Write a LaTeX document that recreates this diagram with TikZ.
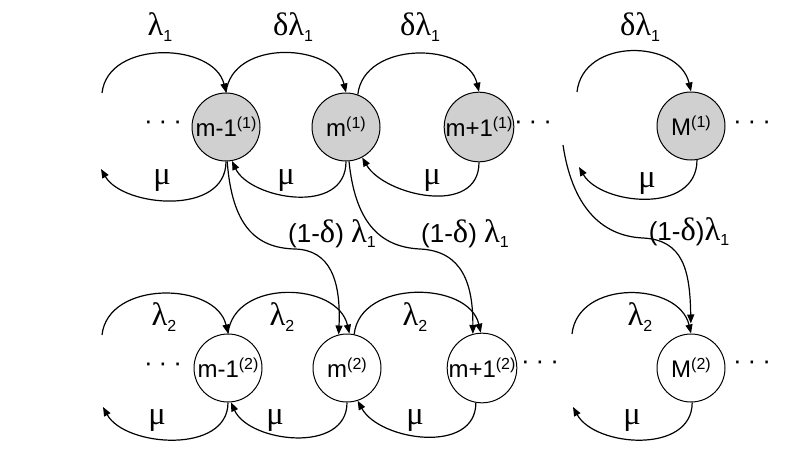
\documentclass[tikz,border=0pt]{standalone}
\usepackage{fontspec}
\setmainfont{Liberation Sans}
\newfontfamily\grk[Scale=1.25]{Liberation Serif}
\usetikzlibrary{arrows.meta}
\newcommand{\gl}{{\grk λ}}
\newcommand{\gm}{{\grk μ}}
\newcommand{\gd}{{\grk δ}}
\newcommand{\sups}[1]{\raisebox{0.33em}{\fontsize{16}{16}\selectfont #1}}
\newcommand{\subs}[1]{\raisebox{-0.2em}{\fontsize{16}{16}\selectfont #1}}
\newcommand{\threedots}{·\hspace{6pt}·\hspace{6pt}·}
\tikzset{
  base/.style={circle, draw, line width=1pt, minimum size=68pt, inner sep=0pt, font=\fontsize{24}{26}\selectfont},
  st1/.style={base, fill={rgb,255:red,208;green,208;blue,208}},
  st2/.style={base, fill=white},
  lab/.style={font=\fontsize{26}{28}\selectfont, inner sep=1pt},
  arc/.style={line width=1.2pt, -{Triangle[length=9pt,width=7pt]}}
}
\begin{document}
\begin{tikzpicture}[x=1pt,y=-1pt]
\useasboundingbox (0,0) rectangle (793,458);
% states
\node[st1] (t1) at (226,127) {m-1\sups{(1)}};
\node[st1] (t2) at (346,127) {m\sups{(1)}};
\node[st1] (t3) at (479,127) {m+1\sups{(1)}};
\node[st1] (t4) at (691,126) {M\sups{(1)}};
\node[st2] (b1) at (228,368) {m-1\sups{(2)}};
\node[st2] (b2) at (347,368) {m\sups{(2)}};
\node[st2] (b3) at (482,368) {m+1\sups{(2)}};
\node[st2] (b4) at (691,368) {M\sups{(2)}};
% dots
\node[lab] (dt1) at (163,125) {\threedots};
\node[lab] (dt2) at (533,125) {\threedots};
\node[lab] (dt3) at (752,125) {\threedots};
\node[lab] (db1) at (163,367) {\threedots};
\node[lab] (db2) at (540,365) {\threedots};
\node[lab] (db3) at (752,365) {\threedots};
% free ends
\coordinate (a0) at (102,93);
\coordinate (c0) at (101,169);
\coordinate (a4) at (577,92);
\coordinate (c4) at (579,167);
\coordinate (d0) at (102,335);
\coordinate (e0) at (103,407);
\coordinate (d4) at (572,334);
\coordinate (e4) at (573,407);
\coordinate (x3) at (563,145);
\coordinate (k1) at (295,249);
\coordinate (k2) at (420,249);
\coordinate (k3) at (643,238);
% top lambda arcs
\draw[arc] (a0) .. controls +(6,-54) and +(-12,-50) .. (t1.north);
\draw[arc] (t1.north) .. controls +(6,-54) and +(-12,-50) .. (t2.north);
\draw[arc] (t2.70) .. controls +(6,-54) and +(-12,-50) .. (t3.north);
\draw[arc] (a4) .. controls +(6,-55) and +(-12,-52) .. (t4.north);
% top mu arcs
\draw[arc] (t1.south) .. controls +(0,55) and +(22,38) .. (c0);
\draw[arc] (t2.south) .. controls +(0,55) and +(18,38) .. (t1.-80);
\draw[arc] (t3.south) .. controls +(0,55) and +(22,38) .. (t2.-62);
\draw[arc] (t4.-80) .. controls +(0,55) and +(22,38) .. (c4);
% bottom lambda arcs
\draw[arc] (d0) .. controls +(6,-55) and +(-12,-52) .. (b1.north);
\draw[arc] (b1.north) .. controls +(6,-55) and +(-12,-52) .. (b2.86);
\draw[arc] (b2.78) .. controls +(6,-55) and +(-12,-52) .. (b3.92);
\draw[arc] (d4) .. controls +(6,-55) and +(-12,-52) .. (b4.north);
% bottom mu arcs
\draw[arc] (b1.south) .. controls +(0,52) and +(22,40) .. (e0);
\draw[arc] (b2.south) .. controls +(0,52) and +(18,40) .. (b1.-85);
\draw[arc] (b3.-100) .. controls +(0,52) and +(22,40) .. (b2.-72);
\draw[arc] (b4.-88) .. controls +(0,52) and +(22,40) .. (e4);
% cross arrows
\draw[arc] (t1.-88) .. controls (232,225) and (255,248) .. (k1)
  .. controls (330,250) and (341,280) .. (b2.104);
\draw[arc] (t2.-85) .. controls (355,220) and (378,247) .. (k2)
  .. controls (463,251) and (473,285) .. (b3.105);
\draw[arc, shorten >=10pt] (x3) .. controls (572,205) and (600,236) .. (k3)
  .. controls (683,240) and (690,270) .. (b4.north);
% labels
\node[lab] (l1) at (160,27) {\gl\subs{1}};
\node[lab] (l2) at (293,27) {\gd\gl\subs{1}};
\node[lab] (l3) at (420,27) {\gd\gl\subs{1}};
\node[lab] (l4) at (640,27) {\gd\gl\subs{1}};
\node[lab] (m1) at (162,181) {\gm};
\node[lab] (m2) at (286,181) {\gm};
\node[lab] (m3) at (432,181) {\gm};
\node[lab] (m4) at (647,184) {\gm};
\node[lab] (n1) at (164,317) {\gl\subs{2}};
\node[lab] (n2) at (282,317) {\gl\subs{2}};
\node[lab] (n3) at (415,317) {\gl\subs{2}};
\node[lab] (n4) at (640,317) {\gl\subs{2}};
\node[lab] (p1) at (157,421) {\gm};
\node[lab] (p2) at (275,421) {\gm};
\node[lab] (p3) at (415,421) {\gm};
\node[lab] (p4) at (632,421) {\gm};
\node[lab] (q1) at (332,234) {(1-\gd) \gl\subs{1}};
\node[lab] (q2) at (465,234) {(1-\gd) \gl\subs{1}};
\node[lab] (q3) at (689,232) {(1-\gd)\gl\subs{1}};
\end{tikzpicture}
\end{document}
